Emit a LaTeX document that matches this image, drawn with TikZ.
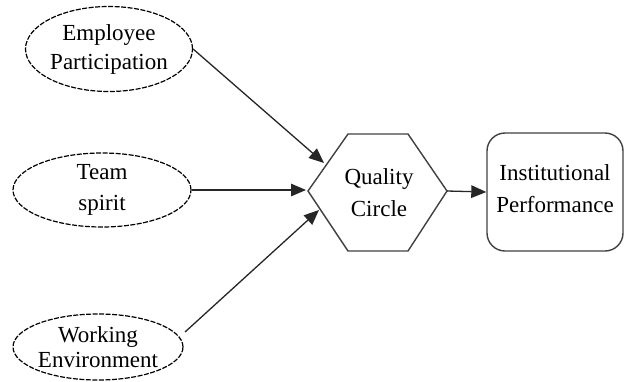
\documentclass[tikz,border=0pt]{standalone}
\usepackage{fontspec}
\setmainfont{Liberation Serif}
\usetikzlibrary{shapes.geometric,arrows.meta}
\begin{document}
\begin{tikzpicture}[x=1pt,y=-1pt,
  lbl/.style={font=\fontsize{23}{29}\selectfont, align=center, text=black},
  oval/.style={ellipse, draw=black, line width=1.2pt, dash pattern=on 5pt off 1.5pt, inner sep=0pt, lbl},
  conn/.style={line width=1.3pt, draw=black!85, -{Triangle[length=15pt,width=12.5pt]}},
  outline/.style={draw=black!75, line width=1.4pt}
]
\useasboundingbox (0,0) rectangle (626,381);
% ellipses
\node[oval, minimum width=167pt, minimum height=85pt] (e1) at (109,49) {Employee\\Participation};
\node[oval, minimum width=178pt, minimum height=74pt, font=\fontsize{23}{31}\selectfont] (e2) at (102,190) {Team\\spirit};
\node[oval, minimum width=170pt, minimum height=66pt, font=\fontsize{23}{25}\selectfont] (e3) at (98,347) {Working\\Environment};
% hexagon
\coordinate (h1) at (308,191);
\coordinate (h2) at (348,134);
\coordinate (h3) at (408,134);
\coordinate (h4) at (447,191);
\coordinate (h5) at (408,251);
\coordinate (h6) at (348,251);
\draw[outline, line join=miter] (h1) -- (h2) -- (h3) -- (h4) -- (h5) -- (h6) -- cycle;
\node[lbl, font=\fontsize{23}{32}\selectfont] (qc) at (379,193) {Quality\\Circle};
% rounded rectangle
\node[outline, rectangle, rounded corners=18pt, minimum width=136pt, minimum height=118pt, inner sep=0pt, lbl, font=\fontsize{23}{32}\selectfont, text depth=7pt] (ip) at (555,192) {Institutional\\Performance};
% arrow tips on hexagon
\coordinate (t1) at (324,163);
\coordinate (t2) at (306,190);
\coordinate (t3) at (319,210);
\coordinate (s3) at (185,332);
\draw[conn] (e1.east) -- (t1);
\draw[conn] (e2.east) -- (t2);
\draw[conn] (s3) -- (t3);
\draw[conn] (h4) -- (ip.west);
\end{tikzpicture}
\end{document}
